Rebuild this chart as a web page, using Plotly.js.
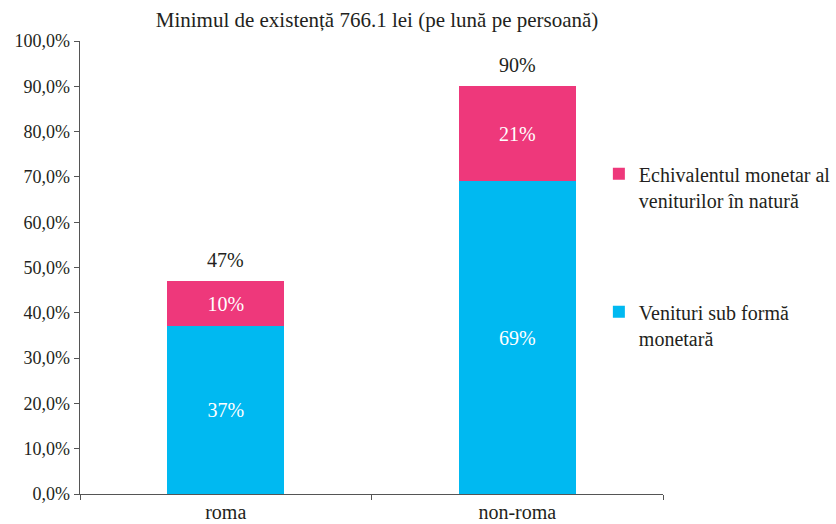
<!DOCTYPE html>
<html>
<head>
<meta charset="utf-8">
<script src="https://cdn.plot.ly/plotly-3.0.1.min.js"></script>
<style>html,body{margin:0;padding:0;background:#fff;}</style>
</head>
<body>
<div id="chart" style="width:836px;height:524px;"></div>
<script>
const categories = ["roma", "non-roma"];
const monetary = [37, 69];
const inKind = [10, 21];
const totals = [47, 90];
const seriesNames = ["Venituri sub formă<br>monetară", "Echivalentul monetar al<br>veniturilor în natură"];
const chartTitle = "Minimul de existență 766.1 lei (pe lună pe persoană)";
const yTicks = [0, 10, 20, 30, 40, 50, 60, 70, 80, 90, 100];
const yTickLabels = ["0,0%", "10,0%", "20,0%", "30,0%", "40,0%", "50,0%", "60,0%", "70,0%", "80,0%", "90,0%", "100,0%"];

const FONT = "Liberation Serif, Times New Roman, serif";
const TXT = "#231f20";

const traces = [
  {
    type: "bar", x: categories, y: monetary, name: seriesNames[0],
    legendgroup: "a", legendrank: 2,
    marker: {color: "#00B9F1"},
    text: monetary.map(v => v + "%"), textposition: "inside", insidetextanchor: "middle",
    textfont: {color: "#ffffff", size: 20, family: FONT},
    hoverinfo: "skip"
  },
  {
    type: "bar", x: categories, y: inKind, name: seriesNames[1],
    legendgroup: "b", legendrank: 1,
    marker: {color: "#EE387B"},
    text: inKind.map(v => v + "%"), textposition: "inside", insidetextanchor: "middle",
    textfont: {color: "#ffffff", size: 20, family: FONT},
    hoverinfo: "skip"
  }
];

const annotations = categories.map((c, i) => ({
  x: c, y: totals[i], xref: "x", yref: "y",
  text: totals[i] + "%", showarrow: false,
  yanchor: "bottom", yshift: 8,
  font: {family: FONT, size: 20, color: TXT}
}));

const layout = {
  width: 836, height: 524,
  margin: {l: 80, r: 173, t: 41, b: 30, pad: 0, autoexpand: false},
  paper_bgcolor: "#ffffff", plot_bgcolor: "#ffffff",
  separators: ",.",
  font: {family: FONT, size: 20, color: TXT},
  barmode: "stack", bargap: 0.6,
  title: {text: chartTitle, x: 0.451, xref: "container", xanchor: "center", y: 0.962, yanchor: "middle", font: {family: FONT, size: 21, color: TXT}},
  xaxis: {
    showline: true, linecolor: "#555555", linewidth: 1.3,
    ticks: "outside", tickson: "boundaries", ticklen: 5, tickcolor: "#555555",
    showgrid: false, zeroline: false, automargin: false,
    tickfont: {family: FONT, size: 20, color: TXT}
  },
  yaxis: {
    range: [0, 100], tickmode: "array", tickvals: yTicks, ticktext: yTickLabels,
    showline: true, linecolor: "#555555", linewidth: 1.3,
    ticks: "outside", ticklen: 5, tickcolor: "#555555",
    showgrid: false, zeroline: false, automargin: false,
    tickfont: {family: FONT, size: 18, color: TXT}
  },
  annotations: annotations,
  legend: {
    x: 0.89, xanchor: "left", y: 0.75, yanchor: "top",
    traceorder: "grouped", tracegroupgap: 83, valign: "top",
    font: {family: FONT, size: 20, color: TXT},
    itemwidth: 30, bgcolor: "rgba(0,0,0,0)"
  },
  showlegend: true
};

Plotly.newPlot("chart", traces, layout, {displayModeBar: false, staticPlot: true});
</script>
</body>
</html>
